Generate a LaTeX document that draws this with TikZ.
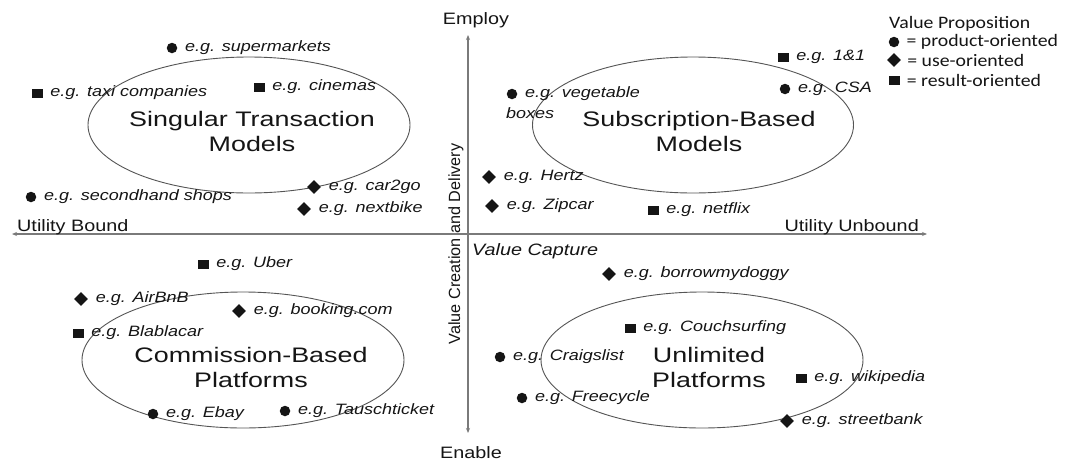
\documentclass[tikz,border=0pt]{standalone}
\usepackage{fontspec}
\setmainfont{Liberation Sans}
\newfontfamily\egfont[FakeStretch=1.2]{Liberation Sans}
\newfontfamily\ttlfont[FakeStretch=1.28]{Liberation Sans}
\newfontfamily\axfont[FakeStretch=1.2]{Liberation Sans}
\newfontfamily\keyfont[FakeStretch=1.13]{Carlito}
\usetikzlibrary{arrows.meta,positioning,shapes.geometric}
\definecolor{ink}{HTML}{151515}
\definecolor{axisgray}{HTML}{7A7A7A}
\definecolor{rim}{HTML}{555555}
\tikzset{
  prod/.style  ={circle, fill=ink, inner sep=0pt, minimum size=10.5pt},
  use/.style   ={diamond, fill=ink, inner sep=0pt, minimum size=14pt},
  res/.style   ={rectangle, fill=ink, inner sep=0pt, minimum width=11pt, minimum height=9pt},
  eg/.style    ={inner sep=0pt, text=ink, font=\egfont\itshape\fontsize{15}{18}\selectfont},
  zone/.style  ={ellipse, draw=rim, line width=0.9pt, inner sep=0pt},
  ttl/.style   ={align=center, text=ink, font=\ttlfont\fontsize{21}{25}\selectfont},
  axlbl/.style ={inner sep=0pt, text=ink, font=\axfont\fontsize{16.5}{20}\selectfont},
  keylbl/.style={inner sep=0pt, text=ink, font=\keyfont\fontsize{17.5}{20}\selectfont},
  ax/.style    ={draw=axisgray, line width=1.6pt,
                 {Stealth[length=5pt,width=4pt]}-{Stealth[length=5pt,width=4pt]}},
}
\begin{document}
\begin{tikzpicture}[x=1pt,y=-1pt]
\fill[white] (0,0) rectangle (1071,461);
\useasboundingbox (0,0) rectangle (1071,461);
% axes
\coordinate (bound)   at (12,234);
\coordinate (unbound) at (927,234);
\coordinate (employ)  at (468,35);
\coordinate (enable)  at (468,433);
\draw[ax] (bound) -- (unbound);
\draw[ax] (enable) -- (employ);
\node[axlbl, anchor=base west] (lbound)   at (17,231)  {Utility Bound};
\node[axlbl, anchor=base east] (lunbound) at (919,231) {Utility Unbound};
\node[axlbl, anchor=base]      (lemploy)  at (476,24)  {Employ};
\node[axlbl, anchor=base]      (lenable)  at (471,458) {Enable};
\node[axlbl, anchor=base west, font=\axfont\itshape\fontsize{16.5}{20}\selectfont]
  (capture) at (472,255) {Value Capture};
\node[axlbl, font=\fontsize{16.2}{19}\selectfont, rotate=90]
  (creation) at (456,244) {Value Creation and Delivery};
% business model clusters
\node[zone, minimum width=322pt, minimum height=136pt] (singular) at (249,125) {};
\node[zone, minimum width=321pt, minimum height=136pt] (subscr)   at (693,125) {};
\node[zone, minimum width=322pt, minimum height=136pt] (commis)   at (243,360) {};
\node[zone, minimum width=322pt, minimum height=136pt] (unlim)    at (702,360) {};
\node[ttl] (tsingular) at (252,131) {Singular Transaction\\Models};
\node[ttl] (tsubscr)   at (699,131) {Subscription-Based\\Models};
\node[ttl] (tcommis)   at (251,367) {Commission-Based\\Platforms};
\node[ttl] (tunlim)    at (709,367) {Unlimited\\Platforms};
% examples
\foreach \nm/\shp/\px/\py/\txt in {
    super/prod/172/48/supermarkets, taxi/res/37/93/taxi companies,
    cinema/res/259/87/cinemas, cartogo/use/314/187/car2go,
    second/prod/31/197/secondhand shops, nextb/use/304/209/nextbike,
    oneone/res/783/57/1\&1, csa/prod/785/89/CSA,
    veg/prod/512/94/vegetable, hertz/use/489/177/Hertz,
    zip/use/492/206/Zipcar, netflix/res/653/210/netflix,
    uber/res/203/264/Uber, airbnb/use/81/299/AirBnB,
    booking/use/239/311/booking.com, blabla/res/78/333/Blablacar,
    ebay/prod/153/414/Ebay, tausch/prod/285/411/Tauschticket,
    doggy/use/609/274/borrowmydoggy, couch/res/630/328/Couchsurfing,
    craig/prod/500/357/Craigslist, wiki/res/801/378/wikipedia,
    freec/prod/522/398/Freecycle, street/use/787/421/streetbank}{
  \node[\shp] (m\nm) at (\px,\py) {};
  \node[eg, right=7.5pt of m\nm] (l\nm) {e.g. \txt};
}
\node[eg, anchor=west] (lvegb) at (506,113) {boxes};
% legend
\node[keylbl, anchor=base west] (key) at (889,28) {Value Proposition};
\node[prod] (kprod) at (894,42) {};
\node[use]  (kuse)  at (894,60) {};
\node[res]  (kres)  at (894,80) {};
\node[keylbl, right=7pt of kprod] (lkprod) {= product-oriented};
\node[keylbl, right=6pt of kuse]  (lkuse)  {= use-oriented};
\node[keylbl, right=7pt of kres]  (lkres)  {= result-oriented};
\end{tikzpicture}
\end{document}
